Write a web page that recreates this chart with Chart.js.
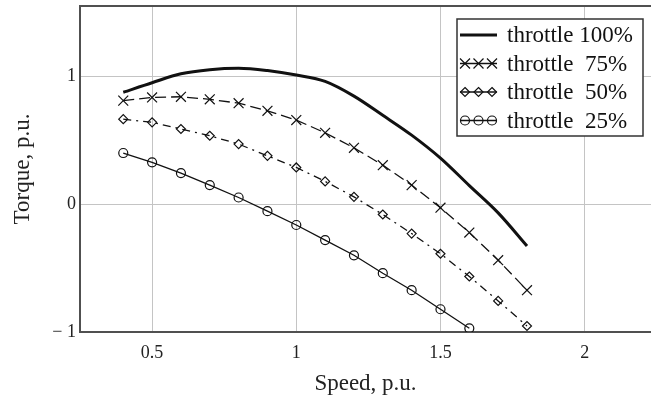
<!DOCTYPE html>
<html lang="en">
<head>
    <meta charset="UTF-8">
    <title>Torque vs speed</title>
    <script src="https://cdn.jsdelivr.net/npm/chart.js"></script>
    <style>
        body {
            margin: 0;
            padding: 0;
            background: white;
        }
        .chart {
            position: relative;
            width: 651px;
            height: 405px;
        }
    </style>
</head>
<body>
    <div class="chart">
        <canvas id="torqueChart"></canvas>
    </div>
    <script>
        // speed points, p.u.
        var speed = [0.4, 0.5, 0.6, 0.7, 0.8, 0.9, 1.0, 1.1, 1.2, 1.3, 1.4, 1.5, 1.6, 1.7, 1.8];

        // torque, p.u.
        var torque100 = [0.875, 0.95, 1.02, 1.052, 1.063, 1.045, 1.01, 0.96, 0.845, 0.695, 0.54, 0.36, 0.145, -0.068, -0.327];
        var torque75 = [0.81, 0.835, 0.84, 0.82, 0.79, 0.73, 0.658, 0.558, 0.441, 0.305, 0.149, -0.028, -0.222, -0.438, -0.673];
        var torque50 = [0.665, 0.64, 0.588, 0.535, 0.47, 0.378, 0.287, 0.178, 0.057, -0.081, -0.23, -0.388, -0.566, -0.757, -0.953];
        var torque25 = [0.40, 0.327, 0.243, 0.149, 0.052, -0.055, -0.163, -0.281, -0.40, -0.54, -0.673, -0.822, -0.971];

        var labels = ['throttle 100%', 'throttle  75%', 'throttle  50%', 'throttle  25%'];
        var xTicks = [0.5, 1, 1.5, 2];
        var yTicks = [-1, 0, 1];

        function points(values) {
            return values.map(function(v, i) {
                return { x: speed[i], y: v };
            });
        }

        // marker for the legend samples
        function marker(ctx, style, x, y) {
            ctx.beginPath();
            if (style === 'crossRot') {
                ctx.moveTo(x - 5, y - 5); ctx.lineTo(x + 5, y + 5);
                ctx.moveTo(x + 5, y - 5); ctx.lineTo(x - 5, y + 5);
            } else if (style === 'rectRot') {
                ctx.moveTo(x, y - 4.5); ctx.lineTo(x + 4.5, y);
                ctx.lineTo(x, y + 4.5); ctx.lineTo(x - 4.5, y);
                ctx.closePath();
            } else if (style === 'circle') {
                ctx.arc(x, y, 4.5, 0, Math.PI * 2);
            }
            ctx.stroke();
        }

        var frame = {
            id: 'frame',
            afterDraw: function(chart) {
                var ctx = chart.ctx;
                var a = chart.chartArea;
                ctx.save();
                // top border of the plot
                ctx.strokeStyle = '#505050';
                ctx.lineWidth = 2;
                ctx.beginPath();
                ctx.moveTo(a.left, a.top);
                ctx.lineTo(a.right, a.top);
                ctx.stroke();

                // legend box
                var bx = 457, by = 19, bw = 186, bh = 117;
                ctx.fillStyle = 'white';
                ctx.fillRect(bx, by, bw, bh);
                ctx.strokeStyle = '#333';
                ctx.lineWidth = 1.5;
                ctx.strokeRect(bx, by, bw, bh);

                ctx.font = '23px "Liberation Serif"';
                ctx.textBaseline = 'middle';
                chart.data.datasets.forEach(function(ds, i) {
                    var y = 35 + i * 28.5;
                    ctx.strokeStyle = '#111';
                    ctx.lineWidth = ds.borderWidth;
                    ctx.beginPath();
                    ctx.moveTo(460, y);
                    ctx.lineTo(497, y);
                    ctx.stroke();
                    if (ds.pointStyle && ds.pointRadius > 0) {
                        ctx.lineWidth = 1.2;
                        [465, 478.5, 492].forEach(function(px) {
                            marker(ctx, ds.pointStyle, px, y);
                        });
                    }
                    ctx.fillStyle = '#111';
                    ctx.fillText(ds.label, 507, y + 1);
                });
                ctx.restore();
            }
        };

        Chart.defaults.font.family = '"Liberation Serif", serif';
        Chart.defaults.color = '#222';

        new Chart(document.getElementById('torqueChart'), {
            type: 'line',
            data: {
                datasets: [{
                    label: labels[0],
                    data: points(torque100),
                    borderColor: '#111',
                    borderWidth: 3,
                    pointRadius: 0,
                    cubicInterpolationMode: 'monotone'
                }, {
                    label: labels[1],
                    data: points(torque75),
                    borderColor: '#111',
                    borderWidth: 1.3,
                    borderDash: [11, 5],
                    pointStyle: 'crossRot',
                    pointRadius: 7,
                    pointBorderWidth: 1.2,
                    pointBorderColor: '#111',
                    pointBackgroundColor: 'transparent'
                }, {
                    label: labels[2],
                    data: points(torque50),
                    borderColor: '#111',
                    borderWidth: 1.3,
                    borderDash: [8, 5, 2, 5],
                    pointStyle: 'rectRot',
                    pointRadius: 4.5,
                    pointBorderWidth: 1.2,
                    pointBorderColor: '#111',
                    pointBackgroundColor: 'transparent'
                }, {
                    label: labels[3],
                    data: points(torque25),
                    borderColor: '#111',
                    borderWidth: 1.3,
                    pointStyle: 'circle',
                    pointRadius: 4.5,
                    pointBorderWidth: 1.2,
                    pointBorderColor: '#111',
                    pointBackgroundColor: 'transparent'
                }]
            },
            options: {
                responsive: true,
                maintainAspectRatio: false,
                animation: false,
                layout: {
                    autoPadding: false,
                    padding: { top: 6, right: 0, left: 0, bottom: 0 }
                },
                plugins: {
                    legend: { display: false },
                    tooltip: { enabled: false }
                },
                scales: {
                    x: {
                        type: 'linear',
                        min: 0.25,
                        max: 2.23,
                        afterBuildTicks: function(s) {
                            s.ticks = xTicks.map(function(v) { return { value: v }; });
                        },
                        afterFit: function(s) {
                            s.height = 73;
                            s.paddingLeft = 0;
                            s.paddingRight = 0;
                        },
                        grid: { color: '#c4c4c4', lineWidth: 1, drawTicks: false },
                        border: { color: '#505050', width: 2 },
                        ticks: {
                            font: { size: 18 },
                            padding: 10,
                            maxRotation: 0,
                            callback: function(v) { return String(v); }
                        },
                        title: {
                            display: true,
                            text: 'Speed, p.u.',
                            font: { size: 23 },
                            padding: { top: 0, bottom: 7 }
                        }
                    },
                    y: {
                        min: -1,
                        max: 1.55,
                        afterBuildTicks: function(s) {
                            s.ticks = yTicks.map(function(v) { return { value: v }; });
                        },
                        afterFit: function(s) {
                            s.width = 80;
                            s.paddingTop = 0;
                            s.paddingBottom = 0;
                        },
                        grid: { color: '#c4c4c4', lineWidth: 1, drawTicks: false },
                        border: { color: '#505050', width: 2 },
                        ticks: {
                            font: { size: 18 },
                            padding: 4,
                            callback: function(v) { return v < 0 ? '\u2212 ' + Math.abs(v) : String(v); }
                        },
                        title: {
                            display: true,
                            text: 'Torque, p.u.',
                            font: { size: 23 },
                            padding: { top: 9, bottom: 0 }
                        }
                    }
                }
            },
            plugins: [frame]
        });
    </script>
</body>
</html>
